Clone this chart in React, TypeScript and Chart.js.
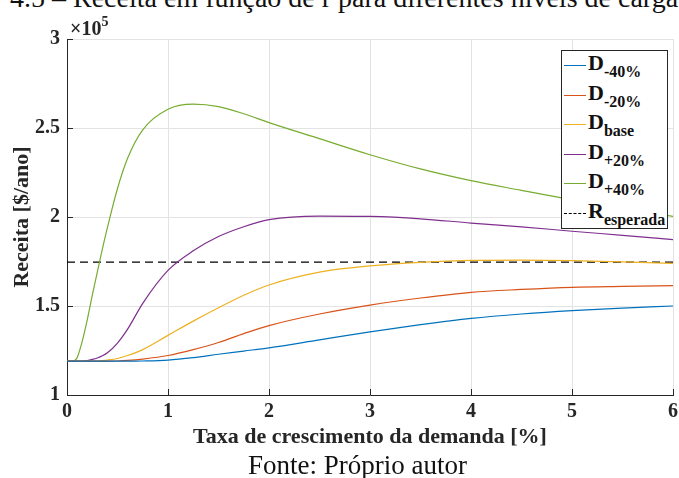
import React, { useEffect, useRef } from "react";
import { Chart, registerables } from "chart.js";
Chart.register(...registerables);

// Growth rate of demand [%]
const xValues = [0, 0.05, 0.1, 0.15, 0.2, 0.25, 0.3, 0.35, 0.4, 0.5, 0.6, 0.75, 1, 1.25, 1.5, 1.75, 2, 2.5, 3, 3.5, 4, 4.5, 5, 5.5, 6];
// Revenue [$/ano] in units of 10^5
const dMinus40 = [1.19, 1.19, 1.19, 1.19, 1.19, 1.19, 1.19, 1.19, 1.19, 1.19, 1.19, 1.191, 1.196, 1.21, 1.229, 1.247, 1.265, 1.31, 1.355, 1.395, 1.43, 1.455, 1.474, 1.488, 1.5];
const dMinus20 = [1.19, 1.19, 1.19, 1.19, 1.19, 1.19, 1.19, 1.19, 1.19, 1.191, 1.194, 1.202, 1.222, 1.255, 1.295, 1.345, 1.39, 1.455, 1.505, 1.545, 1.577, 1.593, 1.605, 1.61, 1.614];
const dBase = [1.19, 1.19, 1.19, 1.19, 1.19, 1.19, 1.191, 1.193, 1.196, 1.205, 1.222, 1.255, 1.335, 1.415, 1.49, 1.56, 1.618, 1.69, 1.725, 1.745, 1.756, 1.758, 1.755, 1.748, 1.74];
const dPlus20 = [1.19, 1.19, 1.19, 1.191, 1.194, 1.2, 1.208, 1.22, 1.237, 1.292, 1.37, 1.515, 1.7, 1.81, 1.89, 1.945, 1.985, 2.005, 2.003, 1.99, 1.966, 1.945, 1.92, 1.897, 1.873];
const dPlus40 = [1.19, 1.19, 1.21, 1.3, 1.42, 1.56, 1.69, 1.82, 1.94, 2.16, 2.33, 2.49, 2.605, 2.634, 2.62, 2.58, 2.53, 2.44, 2.35, 2.27, 2.204, 2.15, 2.097, 2.05, 2.003];
const rEsperada = 1.747;
const xRange = [0, 6];
const yRange = [1, 3];

const legendItems = [
  { main: "D", sub: "-40%", color: "#0072BD", dash: false },
  { main: "D", sub: "-20%", color: "#D95319", dash: false },
  { main: "D", sub: "base", color: "#EDB120", dash: false },
  { main: "D", sub: "+20%", color: "#7E2F8E", dash: false },
  { main: "D", sub: "+40%", color: "#77AC30", dash: false },
  { main: "R", sub: "esperada", color: "#000000", dash: true },
];

const SERIF = "'Liberation Serif', 'Times New Roman', serif";

const toPts = (ys: number[]) => ys.map((y, i) => ({ x: xValues[i], y }));

const inwardTicks = {
  id: "inwardTicks",
  afterDraw(chart: any) {
    const { ctx, chartArea, scales } = chart;
    ctx.save();
    ctx.strokeStyle = "#262626";
    ctx.lineWidth = 1;
    const len = 6;
    scales.x.ticks.forEach((t: any) => {
      const px = Math.round(scales.x.getPixelForValue(t.value)) + 0.5;
      ctx.beginPath();
      ctx.moveTo(px, chartArea.bottom);
      ctx.lineTo(px, chartArea.bottom - len);
      ctx.stroke();
    });
    scales.y.ticks.forEach((t: any) => {
      const py = Math.round(scales.y.getPixelForValue(t.value)) + 0.5;
      ctx.beginPath();
      ctx.moveTo(chartArea.left, py);
      ctx.lineTo(chartArea.left + len, py);
      ctx.stroke();
    });
    ctx.restore();
  },
};

export default function App() {
  const ref = useRef<HTMLCanvasElement | null>(null);
  useEffect(() => {
    document.body.style.margin = "0";
    const ctx = ref.current!.getContext("2d")!;
    const series = [dMinus40, dMinus20, dBase, dPlus20, dPlus40];
    const datasets: any[] = series.map((s, i) => ({
      label: legendItems[i].main + legendItems[i].sub,
      data: toPts(s),
      borderColor: legendItems[i].color,
      borderWidth: 1.2,
      pointRadius: 0,
      cubicInterpolationMode: "monotone",
      fill: false,
    }));
    datasets.push({
      label: "Resperada",
      data: [
        { x: xRange[0], y: rEsperada },
        { x: xRange[1], y: rEsperada },
      ],
      borderColor: "#000",
      borderWidth: 1.2,
      borderDash: [8, 5],
      pointRadius: 0,
      fill: false,
    });
    const tickFont = { family: SERIF, size: 20, weight: "bold" as const };
    const titleFont = { family: SERIF, size: 22, weight: "bold" as const };
    const chart = new Chart(ctx, {
      type: "line",
      data: { datasets },
      plugins: [inwardTicks],
      options: {
        animation: false,
        responsive: false,
        maintainAspectRatio: false,
        layout: { padding: { top: 39, right: 6, left: 0, bottom: 0 } },
        plugins: { legend: { display: false }, tooltip: { enabled: false } },
        scales: {
          x: {
            type: "linear",
            min: xRange[0],
            max: xRange[1],
            ticks: { stepSize: 1, color: "#262626", font: tickFont, padding: 5, callback: (v: any) => String(v) },
            grid: { color: "#e3e3e3", drawTicks: false },
            border: { color: "#262626", width: 1 },
            title: {
              display: true,
              text: "Taxa de crescimento da demanda [%]",
              color: "#262626",
              font: titleFont,
              padding: { top: 0, bottom: 27 },
            },
            afterFit: (s: any) => {
              s.height = 83;
              s.paddingRight = 0;
              s.paddingLeft = 0;
            },
          },
          y: {
            type: "linear",
            min: yRange[0],
            max: yRange[1],
            ticks: { stepSize: 0.5, color: "#262626", font: tickFont, padding: 7, callback: (v: any) => String(v) },
            grid: { color: "#e3e3e3", drawTicks: false },
            border: { color: "#262626", width: 1 },
            title: {
              display: true,
              text: "Receita [$/ano]",
              color: "#262626",
              font: titleFont,
              padding: { top: 9, bottom: 0 },
            },
            afterFit: (s: any) => {
              s.width = 67;
              s.paddingTop = 0;
              s.paddingBottom = 0;
            },
          },
        },
      },
    });
    return () => chart.destroy();
  }, []);

  const rowTop0 = 65;
  const rowStep = 29.5;

  return (
    <div style={{ position: "relative", width: 679, height: 478, overflow: "hidden", background: "#fff", fontFamily: SERIF }}>
      <div
        style={{
          position: "absolute",
          left: 10,
          top: -16,
          fontSize: 28,
          lineHeight: "28px",
          whiteSpace: "nowrap",
          color: "#111",
        }}
      >
        4.5 – Receita em função de r para diferentes níveis de carga
      </div>
      <canvas ref={ref} width={679} height={478} style={{ position: "absolute", left: 0, top: 0 }} />
      <div
        style={{
          position: "absolute",
          left: 70,
          top: 18,
          fontSize: 20,
          lineHeight: "20px",
          fontWeight: "bold",
          color: "#262626",
          whiteSpace: "nowrap",
        }}
      >
        ×10
        <span style={{ fontSize: 14, position: "relative", top: -9 }}>5</span>
      </div>
      <div
        style={{
          position: "absolute",
          left: 561,
          top: 50,
          width: 107,
          height: 179,
          border: "1px solid #262626",
          background: "#fff",
          boxSizing: "border-box",
        }}
      />
      {legendItems.map((l, i) => {
        const cy = rowTop0 + i * rowStep;
        return (
          <React.Fragment key={i}>
            <div
              style={{
                position: "absolute",
                left: 564,
                top: cy,
                width: 22,
                height: 0,
                borderTop: l.dash ? "1px dashed " + l.color : "1px solid " + l.color,
              }}
            />
            <div
              style={{
                position: "absolute",
                left: 588,
                top: cy - 13,
                fontSize: 22,
                lineHeight: "22px",
                fontWeight: "bold",
                color: "#111",
                whiteSpace: "nowrap",
              }}
            >
              {l.main}
              <span style={{ fontSize: 16, position: "relative", top: 7 }}>{l.sub}</span>
            </div>
          </React.Fragment>
        );
      })}
      <div
        style={{
          position: "absolute",
          left: 248,
          top: 450,
          fontSize: 27,
          lineHeight: "30px",
          color: "#111",
          whiteSpace: "nowrap",
        }}
      >
        Fonte: Próprio autor
      </div>
    </div>
  );
}
